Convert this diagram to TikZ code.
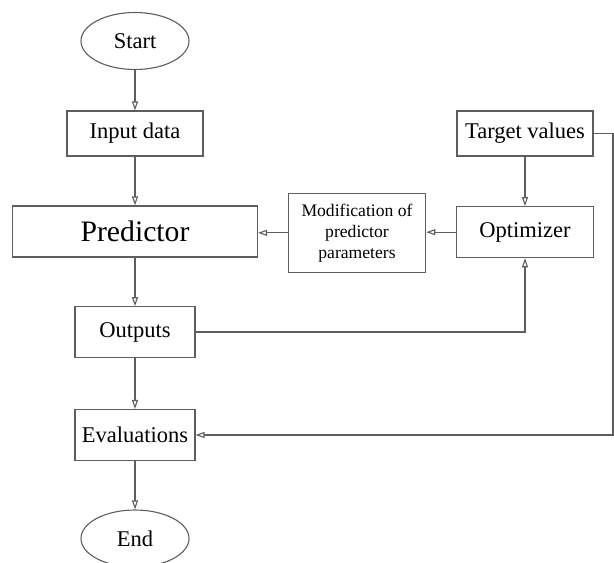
\documentclass[tikz,border=0pt]{standalone}
\usepackage{fontspec}
\setmainfont{Liberation Serif}
\usetikzlibrary{arrows.meta,shapes.geometric}
\definecolor{linegray}{HTML}{5E5E5E}

\begin{document}
\begin{tikzpicture}[
    x=1pt, y=-1pt,
    >={Triangle[open, length=9pt, width=6pt, fill=white]},
    font=\fontsize{22.5}{26}\selectfont,
    box/.style={draw=linegray, line width=1.1pt, rectangle, inner sep=2pt, align=center},
    term/.style={draw=linegray, line width=1.1pt, ellipse, inner sep=0pt, minimum width=108pt, minimum height=57pt},
    flow/.style={linegray, line width=1.1pt, ->}
]
\useasboundingbox (0,0) rectangle (614,563);

% -------- main column --------
\node[term] (start) at (135,41) {Start};
\node[box, minimum width=136pt, minimum height=45pt] (input) at (135,133.5) {Input data};
\node[box, minimum width=245pt, minimum height=51pt, font=\fontsize{29.7}{34}\selectfont] (pred) at (135,231.5) {Predictor};
\node[box, minimum width=120pt, minimum height=50.5pt] (outputs) at (135,332) {Outputs};
\node[box, minimum width=120pt, minimum height=51pt] (evals) at (135,435) {Evaluations};
\node[term] (end) at (135,538.5) {End};

% -------- feedback loop --------
\node[box, minimum width=136pt, minimum height=45pt] (target) at (525,133.5) {Target values};
\node[box, minimum width=137pt, minimum height=51pt] (optim) at (525,232.2) {Optimizer};
\node[box, minimum width=137.5pt, minimum height=79pt, font=\fontsize{17.6}{21}\selectfont] (modif) at (357,232.8) {Modification of\\predictor\\parameters};
\coordinate (rt) at (613,133.5);

% -------- connectors --------
\draw[flow] (start) -- (input);
\draw[flow] (input) -- (pred);
\draw[flow] (pred) -- (outputs);
\draw[flow] (outputs) -- (evals);
\draw[flow] (evals) -- (end);
\draw[flow] (target) -- (optim);
\draw[flow] (optim.west) -- (optim.west -| modif.east);
\draw[flow] (modif.west) -- (modif.west -| pred.east);
\draw[flow] (outputs.east) -| (optim.south);
\draw[flow] (target.east) -- (rt) |- (evals.east);

\end{tikzpicture}
\end{document}
